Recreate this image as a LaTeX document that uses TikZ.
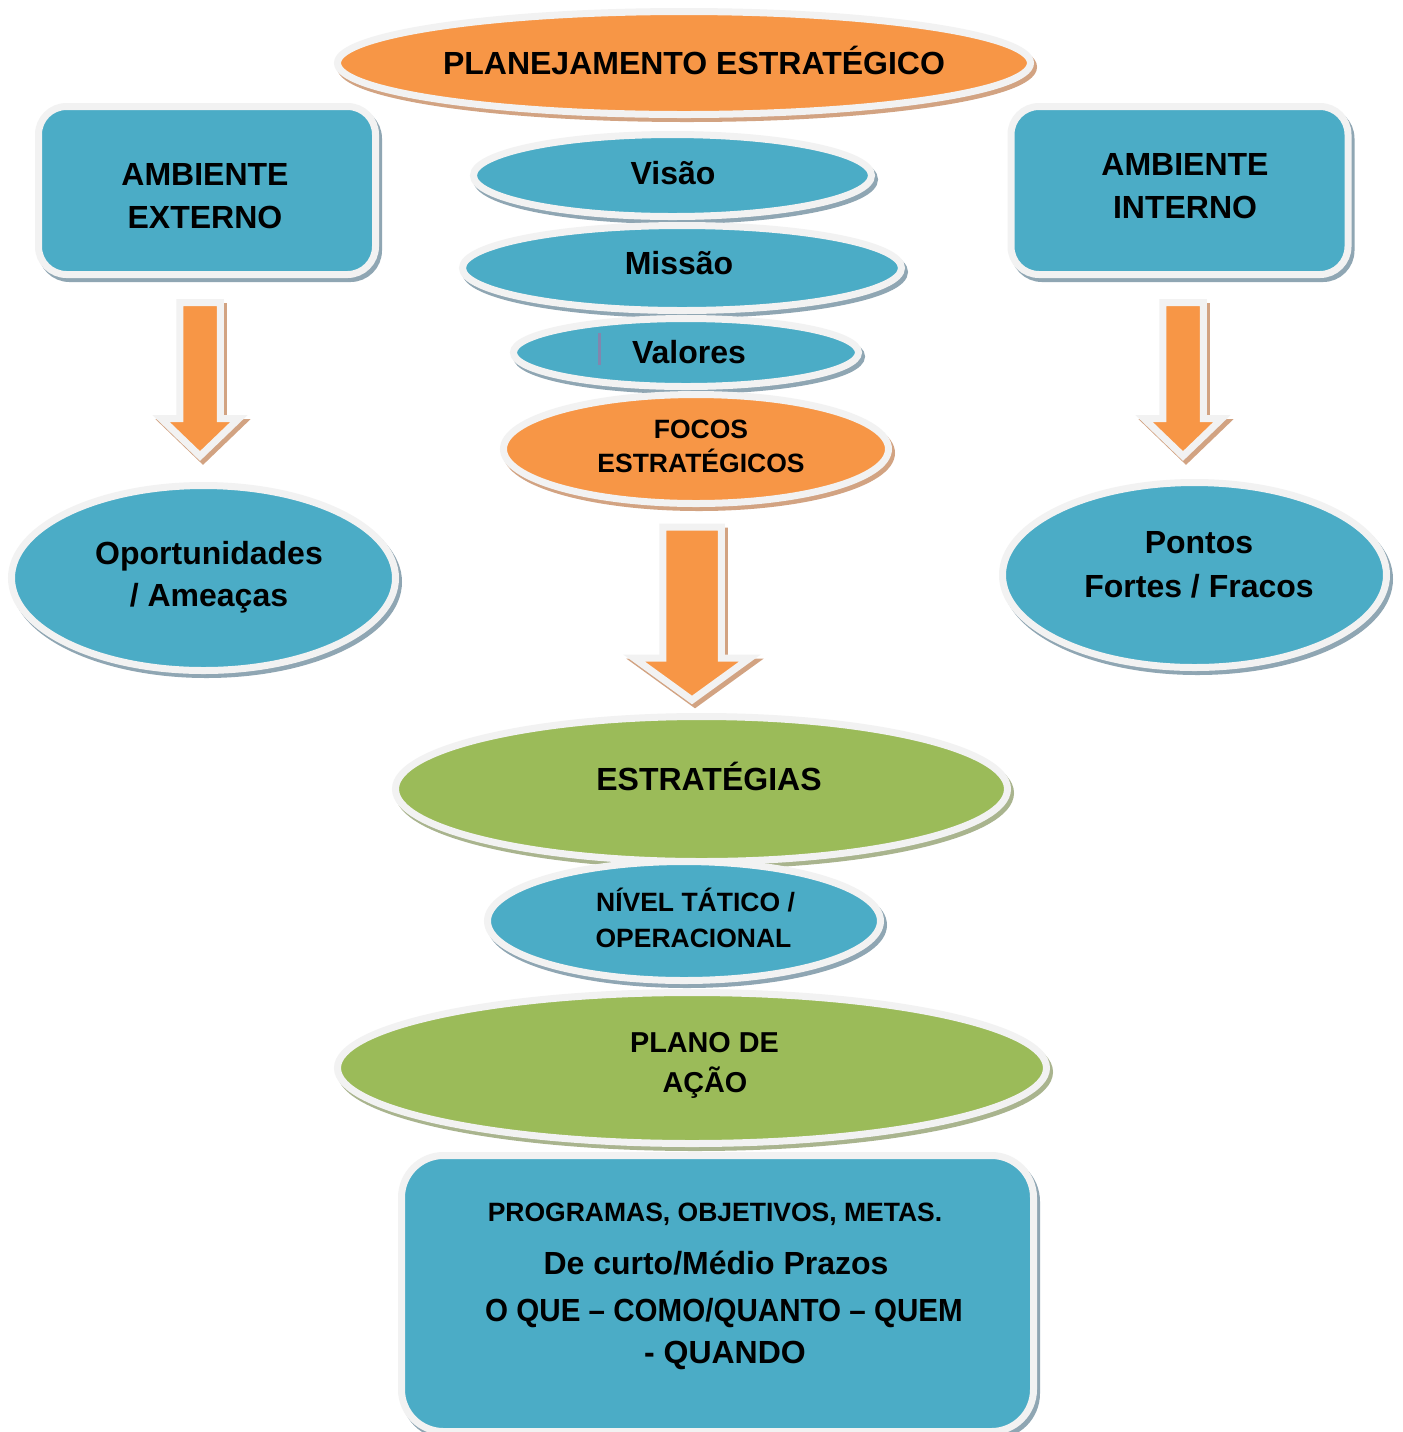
\documentclass[tikz,border=0pt]{standalone}
\usepackage{fontspec}
\setmainfont{Liberation Sans}
\usepackage{graphicx}
\usetikzlibrary{shapes.geometric,shadows}
\definecolor{blu}{HTML}{4BACC6}
\definecolor{org}{HTML}{F79646}
\definecolor{grn}{HTML}{9BBB59}
\definecolor{bord}{HTML}{F2F2F2}
\definecolor{shblu}{HTML}{8FA6B3}
\definecolor{shorg}{HTML}{D2A382}
\definecolor{shgrn}{HTML}{A9B48E}
\definecolor{cursc}{HTML}{8286AE}
\tikzset{
  shp/.style={draw=bord, line width=3.5pt, inner sep=0pt, outer sep=0pt},
  shd/.style={general shadow={draw=#1, fill=#1, line width=3.5pt, shadow xshift=1.5pt, shadow yshift=-2pt}},
  bluell/.style={shp, ellipse, fill=blu, shd=shblu},
  orgell/.style={shp, ellipse, fill=org, shd=shorg},
  grnell/.style={shp, ellipse, fill=grn, shd=shgrn},
  blubox/.style={shp, rectangle, fill=blu, shd=shblu},
  barrow/.style={draw=bord, fill=org, line width=3.5pt, line join=miter, shd=shorg},
  tA/.style={inner sep=0pt, font=\fontsize{16pt}{19pt}\selectfont\bfseries, text height=11.46pt, text depth=0pt},
  tB/.style={inner sep=0pt, font=\fontsize{13.25pt}{16pt}\selectfont\bfseries, text height=9.49pt, text depth=0pt},
  tC/.style={inner sep=0pt, font=\fontsize{14.4pt}{17pt}\selectfont\bfseries, text height=10.31pt, text depth=0pt},
}
\newcommand\blkarrow[6]{% cx, shaft half width, top, head base, head half width, tip
  \draw[barrow] ({#1-#2},#3) -- ({#1+#2},#3) -- ({#1+#2},#4) -- ({#1+#5},#4) -- (#1,#6) -- ({#1-#5},#4) -- ({#1-#2},#4) -- cycle;}
\begin{document}
\begin{tikzpicture}[x=0.5pt,y=-0.5pt]
\useasboundingbox (0,0) rectangle (1403,1432);
\fill[white] (0,0) rectangle (1403,1432);

% title
\node[orgell, minimum width=346.5pt, minimum height=51.5pt] (plan) at (684,63) {};
\node[tA] (tplan) at (694,63) {PLANEJAMENTO ESTRATÉGICO};

% side boxes
\node[blubox, rounded corners=14pt, minimum width=168.5pt, minimum height=84pt] (ext) at (207,190.5) {};
\node[tA] (text1) at (205,174) {AMBIENTE};
\node[tA] (text2) at (205,217) {EXTERNO};
\node[blubox, rounded corners=14pt, minimum width=168.5pt, minimum height=84pt] (int) at (1179.5,190.5) {};
\node[tA] (tint1) at (1185,164) {AMBIENTE};
\node[tA] (tint2) at (1185,207) {INTERNO};

% central stack
\node[bluell, minimum width=199pt, minimum height=41pt] (visao) at (672.5,175.5) {};
\node[tA] (tvisao) at (673,173) {Visão};
\node[bluell, minimum width=219.5pt, minimum height=42.5pt] (missao) at (682,268) {};
\node[tA] (tmissao) at (679,263) {Missão};
\node[bluell, minimum width=172.5pt, minimum height=34pt] (valores) at (686,352.5) {};
\draw[cursc, line width=1.5pt] (599,333) -- (599,365);
\node[tA] (tvalores) at (689,352) {Valores};
\node[orgell, minimum width=192.5pt, minimum height=54.5pt] (focos) at (696,449) {};
\node[tB] (tfocos1) at (701,429) {FOCOS};
\node[tB] (tfocos2) at (701,463) {ESTRATÉGICOS};

% block arrows
\blkarrow{200}{20.25}{302.5}{418.5}{39}{456}
\blkarrow{1183}{20.25}{302.5}{418.5}{39}{456}
\blkarrow{692}{29.25}{527}{658}{58}{700}

% side ellipses
\node[bluell, minimum width=192pt, minimum height=92.5pt] (oport) at (203.5,578) {};
\node[tA] (toport1) at (209,553) {Oportunidades};
\node[tA] (toport2) at (209,595) {/ Ameaças};
\node[bluell, minimum width=192pt, minimum height=92.5pt] (pontos) at (1194.5,575) {};
\node[tA] (tpontos1) at (1199,542) {Pontos};
\node[tA] (tpontos2) at (1199,586) {Fortes / Fracos};

% lower stack
\node[grnell, minimum width=306pt, minimum height=72.5pt] (estrat) at (701.5,789) {};
\node[tA] (testrat) at (709,779) {ESTRATÉGIAS};
\node[bluell, minimum width=196.5pt, minimum height=59.5pt] (nivel) at (684,921) {};
\node[tB] (tnivel1) at (695.5,902) {NÍVEL TÁTICO /};
\node[tB] (tnivel2) at (693.5,938) {OPERACIONAL};
\node[grnell, minimum width=354.5pt, minimum height=75.5pt] (plano) at (692,1068) {};
\node[tC] (tplano1) at (704.5,1042) {PLANO DE};
\node[tC] (tplano2) at (705,1082) {AÇÃO};

% bottom box
\node[blubox, rounded corners=21pt, minimum width=316pt, minimum height=138pt] (prog) at (717.5,1293.5) {};
\node[tB] (tprog1) at (715,1212) {PROGRAMAS, OBJETIVOS, METAS.};
\node[tA] (tprog2) at (716,1263) {De curto/Médio Prazos};
\node[tA] (tprog3) at (724,1310) {\scalebox{0.924}[1]{O QUE – COMO/QUANTO – QUEM}};
\node[tA] (tprog4) at (725,1352) {- QUANDO};
\end{tikzpicture}
\end{document}
